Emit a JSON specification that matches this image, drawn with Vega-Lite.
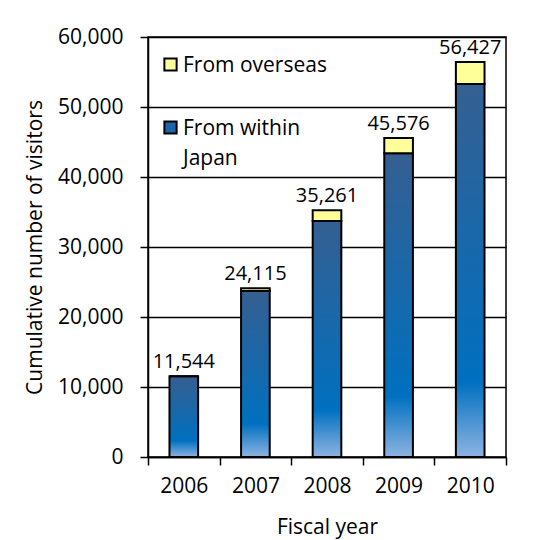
{
  "$schema": "https://vega.github.io/schema/vega-lite/v6.json",
  "width": 358,
  "height": 420,
  "autosize": {"type": "none"},
  "padding": {"left": 148, "top": 37, "right": 28, "bottom": 83},
  "background": "white",
  "config": {
    "font": "Open Sans",
    "view": {"stroke": "black", "strokeWidth": 1.5},
    "axis": {
      "labelFont": "Open Sans",
      "titleFont": "Open Sans",
      "labelColor": "black",
      "titleColor": "black",
      "labelFontSize": 21,
      "titleFontSize": 21,
      "titleFontWeight": "normal",
      "domainColor": "black",
      "tickColor": "black",
      "domainWidth": 1.5,
      "tickWidth": 1.5
    }
  },
  "data": {
    "values": [
      {"year": "2006", "source": "From within Japan", "visitors": 11544},
      {"year": "2006", "source": "From overseas", "visitors": 0},
      {"year": "2007", "source": "From within Japan", "visitors": 23700},
      {"year": "2007", "source": "From overseas", "visitors": 415},
      {"year": "2008", "source": "From within Japan", "visitors": 33700},
      {"year": "2008", "source": "From overseas", "visitors": 1561},
      {"year": "2009", "source": "From within Japan", "visitors": 43400},
      {"year": "2009", "source": "From overseas", "visitors": 2176},
      {"year": "2010", "source": "From within Japan", "visitors": 53300},
      {"year": "2010", "source": "From overseas", "visitors": 3127}
    ]
  },
  "encoding": {
    "x": {
      "field": "year",
      "type": "nominal",
      "scale": {"paddingInner": 0, "paddingOuter": 0},
      "axis": {
        "title": "Fiscal year",
        "labelAngle": 0,
        "tickBand": "extent",
        "tickSize": 8,
        "labelPadding": 10,
        "titlePadding": 20
      }
    }
  },
  "layer": [
    {
      "mark": {"type": "bar", "width": {"band": 0.4}, "stroke": "black", "strokeWidth": 2},
      "encoding": {
        "y": {
          "field": "visitors",
          "type": "quantitative",
          "stack": "zero",
          "scale": {"domain": [0, 60000], "nice": false},
          "axis": {
            "title": "Cumulative number of visitors",
            "values": [0, 10000, 20000, 30000, 40000, 50000, 60000],
            "format": ",d",
            "grid": true,
            "gridColor": "black",
            "gridWidth": 1.5,
            "gridOpacity": 1,
            "tickSize": 8,
            "labelPadding": 17,
            "titlePadding": 12
          }
        },
        "order": {"field": "source", "sort": "descending"},
        "fill": {
          "condition": {
            "test": "datum.source === 'From within Japan'",
            "value": {
              "gradient": "linear",
              "x1": 0, "y1": 0, "x2": 0, "y2": 1,
              "stops": [
                {"offset": 0, "color": "#355F91"},
                {"offset": 0.8, "color": "#0070C0"},
                {"offset": 1, "color": "#8DB4E2"}
              ]
            }
          },
          "field": "source",
          "type": "nominal",
          "scale": {
            "domain": ["From overseas", "From within Japan"],
            "range": ["#FFFF99", "#1F64A8"]
          },
          "legend": {
            "title": null,
            "orient": "none",
            "legendX": 12,
            "legendY": 17,
            "padding": 0,
            "symbolType": "square",
            "symbolSize": 150,
            "symbolStrokeColor": "black",
            "symbolStrokeWidth": 2,
            "labelFont": "Open Sans",
            "labelFontSize": 21,
            "labelColor": "black",
            "labelLimit": 300,
            "labelOffset": 2,
            "labelBaseline": "alphabetic",
            "rowPadding": 41,
            "labelExpr": "datum.label === 'From within Japan' ? ['From within', 'Japan'] : datum.label",
            "encoding": {
              "labels": {
                "lineHeight": {"value": 30},
                "dy": {"value": 7}
              }
            }
          }
        }
      }
    },
    {
      "transform": [
        {"aggregate": [{"op": "sum", "field": "visitors", "as": "total"}], "groupby": ["year"]}
      ],
      "mark": {"type": "text", "baseline": "bottom", "dy": -4, "fontSize": 20, "font": "Open Sans", "color": "black"},
      "encoding": {
        "y": {
          "field": "total",
          "type": "quantitative",
          "axis": {
            "title": "Cumulative number of visitors",
            "values": [0, 10000, 20000, 30000, 40000, 50000, 60000],
            "format": ",d",
            "grid": true,
            "gridColor": "black",
            "gridWidth": 1.5,
            "gridOpacity": 1,
            "tickSize": 8,
            "labelPadding": 17,
            "titlePadding": 12
          }
        },
        "text": {"field": "total", "type": "quantitative", "format": ","}
      }
    }
  ]
}
